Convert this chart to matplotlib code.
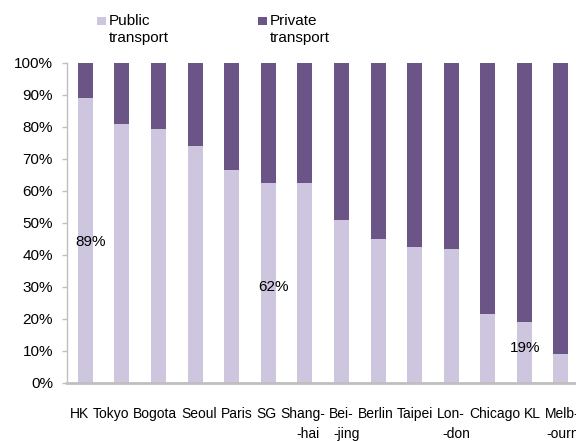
import matplotlib
matplotlib.use("Agg")
import matplotlib.pyplot as plt
import matplotlib.transforms as mtransforms
from matplotlib.patches import Rectangle
import numpy as np

plt.rcParams['font.family'] = ['Liberation Sans', 'DejaVu Sans']

# data
cities = ["HK", "Tokyo", "Bogota", "Seoul", "Paris", "SG", "Shang-\n-hai", "Bei-\n-jing",
          "Berlin", "Taipei", "Lon-\n-don", "Chicago", "KL", "Melb-\n-ourne"]
public = [89, 81, 79.5, 74, 66.5, 62.5, 62.5, 51, 45, 42.5, 42, 21.5, 19, 9]
private = [100 - p for p in public]
labelled = {0: "89%", 5: "62%", 12: "19%"}

light = "#CEC5DF"
dark = "#6B5587"

W, H = 576, 441
fig = plt.figure(figsize=(W / 100, H / 100), dpi=100)
ax = fig.add_axes([67 / W, 58 / H, 1 - 67 / W, 320 / H])

x = np.arange(len(cities))
ax.bar(x, public, width=0.41, color=light, zorder=2)
ax.bar(x, private, width=0.41, bottom=public, color=dark, zorder=2)

# value labels (placed as in the original, roughly mid-bar)
label_pos = {0: (0.15, 44), 5: (0.15, 30), 12: (0.03, 11)}
for i, txt in labelled.items():
    dx, yy = label_pos[i]
    ax.text(i + dx, yy, txt, ha="center", va="center", fontsize=11, color="black", zorder=3)

ax.set_xlim(-0.5, 13.41)
ax.set_ylim(0, 100)
ax.set_yticks(np.arange(0, 101, 10))
ax.set_yticklabels([f"{v}%" for v in range(0, 101, 10)], fontsize=11)
ax.set_xticks([])
ax.tick_params(axis="y", length=3.6, width=1, color="#BFBFBF", pad=6.5)

for s in ["top", "right"]:
    ax.spines[s].set_visible(False)
ax.spines["left"].set_color("#BFBFBF")
ax.spines["left"].set_linewidth(1)
ax.spines["bottom"].set_color("#BFBFBF")
ax.spines["bottom"].set_linewidth(2)

# category labels: in the original they run on as one line of words,
# with the second halves of split names centred underneath
renderer = fig.canvas.get_renderer()
first = [c.split("\n")[0] for c in cities]

def text_width(s):
    t = fig.text(0, 0, s, fontsize=10)
    w = t.get_window_extent(renderer).width
    t.remove()
    return w

x0 = 70
axis_px = H - 58
for i, name in enumerate(cities):
    parts = name.split("\n")
    left = x0 + text_width(" ".join(first[:i + 1])) - text_width(first[i])
    fig.text(left / W, 1 - (axis_px + 35) / H, parts[0], ha="left", va="baseline", fontsize=10)
    if len(parts) > 1:
        centre = left + text_width(parts[0]) / 2 + 5
        fig.text(centre / W, 1 - (axis_px + 55) / H, parts[1], ha="center", va="baseline", fontsize=10)

# legend drawn by hand
def legend_item(px, color, text):
    fig.patches.append(Rectangle((px / W, 1 - 25 / H), 9 / W, 8 / H, transform=fig.transFigure,
                                 facecolor=color, edgecolor="none"))
    fig.text((px + 12) / W, 1 - 14 / H, text, ha="left", va="top", fontsize=11, linespacing=1.3)

legend_item(97, light, "Public\ntransport")
legend_item(258, dark, "Private\ntransport")

fig.savefig("out.png", dpi=100)
